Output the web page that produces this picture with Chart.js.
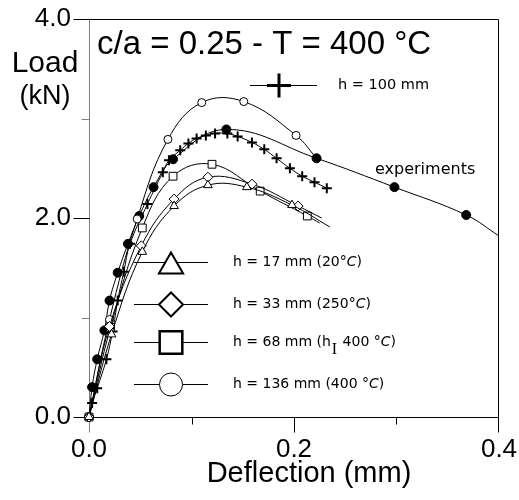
<!DOCTYPE html>
<html>
<head>
<meta charset="utf-8">
<script src="https://cdn.jsdelivr.net/npm/chart.js@4.4.0/dist/chart.umd.min.js"></script>
<style>
  html, body { margin: 0; padding: 0; background: #fff; }
  canvas { display: block; }
</style>
</head>
<body>
<canvas id="loadChart" width="519" height="500"></canvas>
<script>
// deflection (mm) vs load (kN), c/a = 0.25 at 400 °C
const expDefl = [0, 0.003, 0.008, 0.015, 0.020, 0.028, 0.038, 0.049, 0.063, 0.082, 0.134, 0.222, 0.298, 0.368, 0.400];
const expLoad = [0, 0.30, 0.58, 0.87, 1.17, 1.45, 1.74, 2.02, 2.31, 2.59, 2.89, 2.60, 2.31, 2.03, 1.82];

const h100Defl = [0, 0.003, 0.008, 0.017, 0.023, 0.028, 0.034, 0.040, 0.057, 0.072, 0.078, 0.089, 0.097, 0.105, 0.114, 0.123, 0.135, 0.145, 0.159, 0.171, 0.183, 0.196, 0.208, 0.220, 0.232];
const h100Load = [0, 0.14, 0.29, 0.58, 0.86, 1.17, 1.46, 1.74, 2.14, 2.46, 2.58, 2.68, 2.75, 2.80, 2.83, 2.85, 2.85, 2.82, 2.76, 2.69, 2.60, 2.50, 2.42, 2.36, 2.30];

const h17Defl = [0, 0.022, 0.052, 0.083, 0.116, 0.154, 0.198, 0.235];
const h17Load = [0, 0.83, 1.66, 2.12, 2.33, 2.31, 2.13, 1.91];

const h33Defl = [0, 0.020, 0.051, 0.083, 0.116, 0.159, 0.204, 0.227];
const h33Load = [0, 0.91, 1.72, 2.19, 2.41, 2.34, 2.12, 2.00];

const h68Defl = [0, 0.021, 0.052, 0.082, 0.120, 0.167, 0.213, 0.225];
const h68Load = [0, 0.90, 1.90, 2.42, 2.54, 2.27, 2.02, 1.95];

const h136Defl = [0, 0.020, 0.047, 0.077, 0.110, 0.151, 0.202, 0.222];
const h136Load = [0, 0.98, 1.99, 2.79, 3.16, 3.17, 2.83, 2.60];

const xMajorTicks = [0, 0.2, 0.4];
const xMinorTicks = [0.1, 0.3];
const yMajorTicks = [0, 2, 4];
const yMinorTicks = [1, 3];

const titleText = "c/a = 0.25 - T = 400 °C";
const xTitle = "Deflection (mm)";
const yTitle = "Load";
const yUnit = "(kN)";
const expLabel = "experiments";
const h100Label = "h = 100 mm";
const legendLabels = ["h = 17 mm (20°C)", "h = 33 mm (250°C)", "h = 68 mm (h_I 400 °C)", "h = 136 mm (400 °C)"];

function toPoints(xs, ys) {
  return xs.map((x, i) => ({ x: x, y: ys[i] }));
}

// every point gets a marker except the bare end of the curve
function markerSizes(n, size, bareEnd) {
  const r = new Array(n).fill(size);
  if (bareEnd) r[n - 1] = 0;
  return r;
}

function series(xs, ys, style, size, fill, bareEnd, markWidth) {
  return {
    data: toPoints(xs, ys),
    showLine: true,
    borderColor: '#000',
    borderWidth: 1,
    tension: 0.4,
    pointStyle: style,
    pointRadius: markerSizes(xs.length, size, bareEnd),
    pointBackgroundColor: fill,
    pointBorderColor: '#000',
    pointBorderWidth: markWidth || 1,
    clip: false
  };
}

const FONT = '"Liberation Sans", Arial, sans-serif';
const LEG_FONT = '"DejaVu Sans", sans-serif';

function crisp(v) {
  return Math.round(v) + 0.5;
}

function line(ctx, x1, y1, x2, y2, color) {
  ctx.strokeStyle = color;
  ctx.beginPath();
  ctx.moveTo(x1, y1);
  ctx.lineTo(x2, y2);
  ctx.stroke();
}

// box with outward ticks
const framePlugin = {
  id: 'frame',
  beforeDatasetsDraw(chart) {
    const ctx = chart.ctx;
    const a = chart.chartArea;
    const xs = chart.scales.x, ys = chart.scales.y;
    const L = crisp(a.left), R = crisp(a.right) - 1, T = crisp(a.top), B = crisp(a.bottom);
    ctx.save();
    ctx.lineWidth = 1;
    line(ctx, L, T, R, T, '#000');
    line(ctx, R, T, R, B, '#000');
    line(ctx, L, B, R, B, '#000');
    line(ctx, L, T, L, B, '#808080');

    yMajorTicks.forEach(v => {
      const y = crisp(ys.getPixelForValue(v));
      line(ctx, L - 16, y, L, y, '#000');
    });
    yMinorTicks.forEach(v => {
      const y = crisp(ys.getPixelForValue(v));
      line(ctx, L - 8, y, L, y, '#808080');
    });
    xMajorTicks.forEach(v => {
      let x = crisp(xs.getPixelForValue(v));
      if (v === xs.max) x = R;
      line(ctx, x, B, x, B + 15, v === 0 ? '#808080' : '#000');
    });
    xMinorTicks.forEach(v => {
      const x = crisp(xs.getPixelForValue(v));
      line(ctx, x, B, x, B + 7, '#000');
    });
    ctx.restore();
  }
};

// text with an italic C after the degree sign and a serif subscript I
function drawRich(ctx, text, x, y, size) {
  const parts = text.split(/(°C|_I)/);
  parts.forEach(p => {
    if (!p) return;
    if (p === '°C') {
      ctx.font = size + 'px ' + LEG_FONT;
      ctx.fillText('°', x, y);
      x += ctx.measureText('°').width;
      ctx.font = 'italic ' + size + 'px ' + LEG_FONT;
      ctx.fillText('C', x, y);
      x += ctx.measureText('C').width;
    } else if (p === '_I') {
      ctx.font = '16px "Liberation Serif", serif';
      ctx.fillText('I', x + 1, y + 8);
      x += ctx.measureText('I').width + 2;
    } else {
      ctx.font = size + 'px ' + LEG_FONT;
      ctx.fillText(p, x, y);
      x += ctx.measureText(p).width;
    }
  });
}

function legendMark(ctx, style, radius, width, x, y) {
  ctx.fillStyle = '#fff';
  ctx.strokeStyle = '#000';
  ctx.lineWidth = width;
  Chart.helpers.drawPoint(ctx, { pointStyle: style, radius: radius, rotation: 0, borderWidth: width }, x, y);
}

const textPlugin = {
  id: 'texts',
  afterDatasetsDraw(chart) {
    const ctx = chart.ctx;
    ctx.save();
    ctx.fillStyle = '#000';
    ctx.textBaseline = 'alphabetic';

    ctx.textAlign = 'left';
    ctx.font = '33px ' + FONT;
    ctx.fillText(titleText, 97, 54);

    ctx.textAlign = 'center';
    ctx.font = '30px ' + FONT;
    ctx.fillText(yTitle, 45, 72);
    ctx.font = '27px ' + FONT;
    ctx.fillText(yUnit, 45, 104);
    ctx.font = '29px ' + FONT;
    ctx.fillText(xTitle, 309, 482);

    // key for the h = 100 mm curve
    ctx.lineWidth = 1;
    line(ctx, 250, 85.5, 317, 85.5, '#000');
    legendMark(ctx, 'cross', 12, 3, 279, 85.5);
    ctx.fillStyle = '#000';
    ctx.textAlign = 'left';
    ctx.textBaseline = 'middle';
    drawRich(ctx, h100Label, 338, 85, 14.5);

    ctx.font = '16px ' + LEG_FONT;
    ctx.fillText(expLabel, 375, 170);

    // key for the computed curves
    const rows = [
      { y: 262, style: 'triangle', r: 14, w: 2, dy: 4 },
      { y: 304, style: 'rectRot', r: 12, w: 2, dy: 0 },
      { y: 342, style: 'rect', r: 16, w: 2.5, dy: 0 },
      { y: 384, style: 'circle', r: 11.5, w: 1, dy: 0 }
    ];
    rows.forEach((row, i) => {
      ctx.lineWidth = 1;
      line(ctx, 134, row.y + 0.5, 208, row.y + 0.5, '#000');
      legendMark(ctx, row.style, row.r, row.w, 171, row.y + 0.5 + row.dy);
      ctx.fillStyle = '#000';
      drawRich(ctx, legendLabels[i], 233, row.y, 14);
    });
    ctx.restore();
  }
};

new Chart(document.getElementById('loadChart'), {
  type: 'scatter',
  data: {
    datasets: [
      series(h17Defl, h17Load, 'triangle', 5, '#fff', true),
      series(h33Defl, h33Load, 'rectRot', 5, '#fff', true),
      series(h68Defl, h68Load, 'rect', 5.5, '#fff', true),
      series(h136Defl, h136Load, 'circle', 4, '#fff', true),
      series(h100Defl, h100Load, 'cross', 5, '#000', false, 2),
      series(expDefl, expLoad, 'circle', 4.5, '#000', true)
    ]
  },
  options: {
    responsive: false,
    animation: false,
    events: [],
    layout: { padding: { left: 0, right: 20, top: 19, bottom: 0 } },
    plugins: { legend: { display: false }, tooltip: { enabled: false } },
    scales: {
      x: {
        type: 'linear',
        min: 0,
        max: 0.4,
        afterBuildTicks: s => { s.ticks = xMajorTicks.map(v => ({ value: v })); },
        afterFit: s => {
          s.height = 83;
          s.paddingLeft = 0;
          s.paddingRight = 0;
        },
        grid: { display: false, drawTicks: false },
        border: { display: false },
        ticks: {
          autoSkip: false,
          maxRotation: 0,
          padding: 17,
          color: '#000',
          font: { family: 'Liberation Sans', size: 26 },
          callback: v => v.toFixed(1)
        }
      },
      y: {
        type: 'linear',
        min: 0,
        max: 4,
        afterBuildTicks: s => { s.ticks = yMajorTicks.map(v => ({ value: v })); },
        afterFit: s => {
          s.width = 89;
          s.paddingTop = 0;
          s.paddingBottom = 0;
        },
        grid: { display: false, drawTicks: false },
        border: { display: false },
        ticks: {
          autoSkip: false,
          padding: 18,
          color: '#000',
          font: { family: 'Liberation Sans', size: 26 },
          callback: v => v.toFixed(1)
        }
      }
    }
  },
  plugins: [framePlugin, textPlugin]
});
</script>
</body>
</html>
